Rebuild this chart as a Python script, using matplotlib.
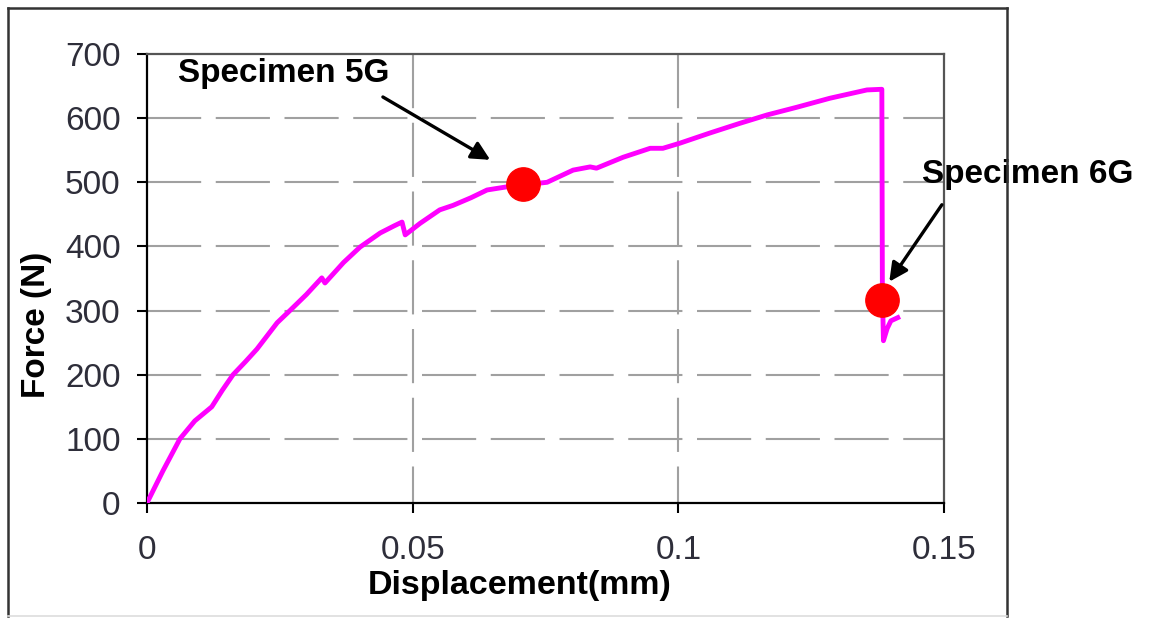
import matplotlib
matplotlib.use('Agg')
import matplotlib.pyplot as plt
from matplotlib.lines import Line2D

plt.rcParams['font.family'] = ['Liberation Sans', 'DejaVu Sans']

# Force-displacement curve
disp = [0.0, 0.0030, 0.0062, 0.0090, 0.0122, 0.0142, 0.0162, 0.0185, 0.0207, 0.0245,
        0.0269, 0.0300, 0.0329, 0.0335, 0.0370, 0.0401, 0.0439, 0.0465, 0.0480, 0.0486,
        0.0514, 0.0551, 0.0576, 0.0610, 0.0640, 0.0678, 0.0753, 0.0802, 0.0834, 0.0846,
        0.0896, 0.0947, 0.0971, 0.1003, 0.1060, 0.1116, 0.1167, 0.1223, 0.1285, 0.1355,
        0.1383, 0.1384, 0.1386, 0.1393, 0.1400, 0.1413]
force = [0, 50, 100, 128, 150, 176, 200, 220, 240, 281,
         300, 325, 351, 343, 375, 399, 421, 432, 438, 418,
         436, 457, 464, 476, 488, 493, 500, 519, 524, 522,
         539, 553, 553, 561, 577, 592, 605, 617, 631, 644,
         645, 330, 253, 272, 284, 289]

# specimen points
spec_names = ['Specimen 5G', 'Specimen 6G']
spec_x = [0.0708, 0.1383]
spec_y = [498, 317]

xticks = [0, 0.05, 0.1, 0.15]
xtick_labels = ['0', '0.05', '0.1', '0.15']
yticks = [0, 100, 200, 300, 400, 500, 600, 700]

fig = plt.figure(figsize=(11.49, 6.18), dpi=100)
ax = fig.add_axes([0.1279, 0.1861, 0.6937, 0.7265])

# gridlines (dashed, grey)
grid_kw = dict(color='#a0a0a0', linewidth=1.5, linestyle=(0, (26, 7)), zorder=1)
ax.hlines(yticks[1:-1], 0, 0.15, **grid_kw)
ax.vlines(xticks[1:-1], 700, 0, **grid_kw)

ax.plot(disp, force, color='#ff00ff', linewidth=3.5, zorder=3)
ax.plot(spec_x, spec_y, 'o', color='#ff0000', markersize=24, zorder=4)

ax.set_xlim(0, 0.15)
ax.set_ylim(0, 700)
ax.set_xticks(xticks)
ax.set_xticklabels(xtick_labels)
ax.set_yticks(yticks)
ax.tick_params(axis='both', direction='out', length=7, width=1.5, labelsize=24,
               labelcolor='#2e2e3a', color='black')
ax.tick_params(axis='x', pad=16)
ax.tick_params(axis='y', pad=12)

for s in ['left', 'bottom']:
    ax.spines[s].set_linewidth(1.6)
    ax.spines[s].set_color('black')
for s in ['top', 'right']:
    ax.spines[s].set_linewidth(1.6)
    ax.spines[s].set_color('#555555')

ax.set_xlabel('Displacement(mm)', fontsize=24.5, fontweight='bold', va='center')
ax.xaxis.set_label_coords(0.468, -0.183)
ax.set_ylabel('Force (N)', fontsize=24, fontweight='bold', va='center')
ax.yaxis.set_label_coords(-0.138, 0.396)

# annotations
arrow_kw = dict(arrowstyle='-|>', color='black', lw=2.4, mutation_scale=28,
                shrinkA=0, shrinkB=0)
ax.text(0.0058, 670, spec_names[0], fontsize=24, fontweight='bold', va='center', ha='left')
ax.annotate('', xy=(0.0646, 535), xytext=(0.0444, 633), arrowprops=arrow_kw)
ax.text(0.1459, 512, spec_names[1], fontsize=24, fontweight='bold', va='center', ha='left',
        clip_on=False)
ax.annotate('', xy=(0.1397, 345), xytext=(0.1496, 465), arrowprops=arrow_kw,
            annotation_clip=False)

# outer frame
W, H = 1149, 618
fl, ft, fr, fb = 8 / W, 1 - 8 / H, 1007 / W, 1 - 616 / H
frame_kw = dict(transform=fig.transFigure, color='#333333', linewidth=1.8)
fig.add_artist(Line2D([fl, fl], [fb, ft], **frame_kw))
fig.add_artist(Line2D([fl, fr], [ft, ft], **frame_kw))
fig.add_artist(Line2D([fr, fr], [fb, ft], **frame_kw))
fig.add_artist(Line2D([fl, fr], [fb, fb], transform=fig.transFigure, color='#dddddd',
                      linewidth=1.2))

plt.savefig('out.png', dpi=100)
plt.close()
